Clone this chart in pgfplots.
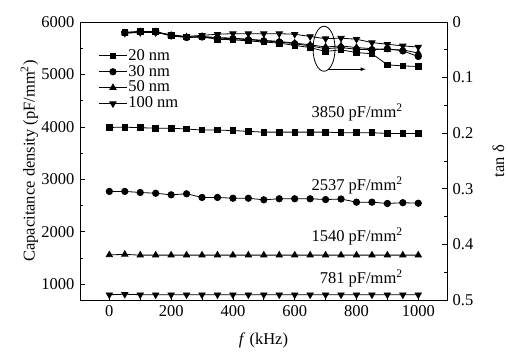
\documentclass[border=0pt]{standalone}
\usepackage{pgfplots}
\pgfplotsset{compat=1.18}
\usepackage{fontspec}
\setmainfont{Liberation Serif}
\begin{document}
\fontsize{16.5}{19}\selectfont
\begin{tikzpicture}
\pgfplotsset{every axis/.append style={
  font=\fontsize{16.5}{19}\selectfont,
  scale only axis, width=367pt, height=278pt,
  xmin=-95, xmax=1093,
  /pgf/number format/assume math mode=true,
  tick align=inside,
  axis line style={line width=0.8pt},
  major tick length=5pt, minor tick length=3pt,
  every tick/.style={black, line width=0.8pt},
}}
\begin{axis}[
  ymin=700, ymax=6000,
  xtick={0,200,400,600,800,1000}, minor x tick num=1,
  ytick={1000,2000,3000,4000,5000,6000}, minor y tick num=1,
  xtick pos=left, ytick pos=left,
  xlabel={\textit{f} (kHz)},
  xlabel style={yshift=-5pt},
  ylabel={Capacitance density (pF/mm\textsuperscript{2})},
  ylabel style={yshift=-8pt},
  /pgf/number format/set thousands separator={},
  legend style={draw=none, fill=none, at={(0.05,0.905)}, anchor=north west,
    font=\fontsize{16.5}{17}\selectfont, row sep=1.5pt, inner sep=0pt,
    nodes={inner xsep=1pt, inner ysep=0.5pt}},
  legend cell align=left,
  legend image code/.code={\draw[line width=0.8pt] (0pt,0pt) -- (28pt,0pt); \draw plot[mark repeat=1] coordinates {(14pt,0pt)};},
  every axis plot/.append style={black, line width=0.8pt, mark options={solid, fill=black}},
]
\addplot[mark=square*, mark size=2.8pt] coordinates {
(0,3990)(50,3995)(100,3985)(150,3975)(200,3975)(250,3960)(300,3940)(350,3940)(400,3930)(450,3915)(500,3900)(550,3900)(600,3900)(650,3900)(700,3900)(750,3890)(800,3890)(850,3890)(900,3875)(950,3875)(1000,3875)};
\addlegendentry{20 nm}
\addplot[mark=*, mark size=3.2pt] coordinates {
(0,2770)(50,2770)(100,2750)(150,2735)(200,2705)(250,2725)(300,2655)(350,2655)(400,2640)(450,2640)(500,2610)(550,2630)(600,2630)(650,2630)(700,2615)(750,2625)(800,2565)(850,2565)(900,2540)(950,2555)(1000,2545)};
\addlegendentry{30 nm}
\addplot[mark=triangle*, mark size=3.6pt] coordinates {
(0,1560)(50,1570)(100,1555)(150,1555)(200,1555)(250,1555)(300,1555)(350,1555)(400,1555)(450,1555)(500,1555)(550,1555)(600,1555)(650,1555)(700,1555)(750,1555)(800,1555)(850,1555)(900,1555)(950,1555)(1000,1555)};
\addlegendentry{50 nm}
\addplot[mark=triangle*, mark size=3.6pt, mark options={rotate=180}] coordinates {
(0,800)(50,810)(100,800)(150,800)(200,800)(250,800)(300,800)(350,800)(400,800)(450,800)(500,800)(550,800)(600,800)(650,800)(700,800)(750,800)(800,800)(850,800)(900,800)(950,800)(1000,800)};
\addlegendentry{100 nm}
\node[anchor=east] at (axis cs:968,4270) {3850 pF/mm\textsuperscript{2}};
\node[anchor=east] at (axis cs:968,2890) {2537 pF/mm\textsuperscript{2}};
\node[anchor=east] at (axis cs:968,1912) {1540 pF/mm\textsuperscript{2}};
\node[anchor=east] at (axis cs:968,1112) {781 pF/mm\textsuperscript{2}};
\draw[line width=0.8pt] (axis cs:695,5490) ellipse [x radius=11pt, y radius=22.5pt];
\draw[line width=0.8pt, -latex] (axis cs:707,5100) -- (axis cs:830,5100);
\end{axis}
\begin{axis}[
  ymin=0, ymax=0.5, y dir=reverse,
  axis y line*=right, axis x line=none,
  ytick={0,0.1,0.2,0.3,0.4,0.5}, minor y tick num=1,
  yticklabel style={/pgf/number format/fixed, /pgf/number format/precision=1},
  ylabel={tan δ},
  ylabel style={yshift=-8pt},
  every axis plot/.append style={black, line width=0.8pt, mark options={solid, fill=black}},
]
\addplot[mark=square*, mark size=2.8pt] coordinates {
(50,0.019)(100,0.017)(150,0.017)(200,0.024)(250,0.027)(300,0.027)(350,0.031)(400,0.032)(450,0.034)(500,0.036)(550,0.038)(600,0.042)(650,0.046)(700,0.053)(750,0.050)(800,0.055)(850,0.057)(900,0.077)(950,0.079)(1000,0.080)};
\addplot[mark=*, mark size=3.2pt] coordinates {
(50,0.019)(100,0.017)(150,0.018)(200,0.025)(250,0.028)(300,0.027)(350,0.029)(400,0.030)(450,0.032)(500,0.034)(550,0.036)(600,0.039)(650,0.043)(700,0.048)(750,0.046)(800,0.049)(850,0.050)(900,0.048)(950,0.052)(1000,0.062)};
\addplot[mark=triangle*, mark size=3.6pt] coordinates {
(50,0.020)(100,0.018)(150,0.018)(200,0.024)(250,0.027)(300,0.026)(350,0.028)(400,0.029)(450,0.031)(500,0.033)(550,0.035)(600,0.038)(650,0.041)(700,0.045)(750,0.043)(800,0.046)(850,0.048)(900,0.050)(950,0.050)(1000,0.056)};
\addplot[mark=triangle*, mark size=3.6pt, mark options={rotate=180}] coordinates {
(50,0.020)(100,0.019)(150,0.019)(200,0.023)(250,0.026)(300,0.024)(350,0.022)(400,0.021)(450,0.021)(500,0.021)(550,0.021)(600,0.022)(650,0.026)(700,0.030)(750,0.029)(800,0.031)(850,0.037)(900,0.040)(950,0.043)(1000,0.045)};
\end{axis}
\pgfresetboundingbox
\path (current axis.south west) ++(-80pt,-55pt) rectangle ++(508pt,355pt);
\end{tikzpicture}
\end{document}
